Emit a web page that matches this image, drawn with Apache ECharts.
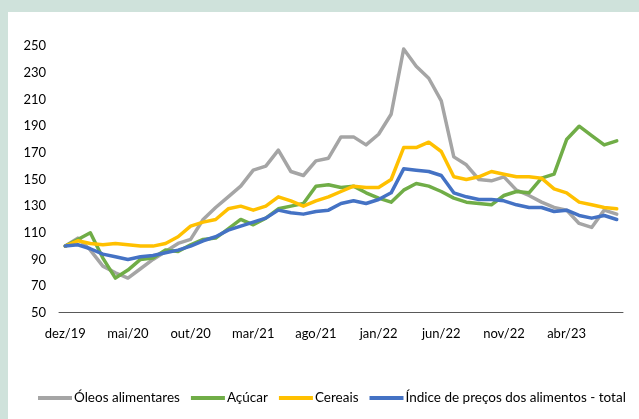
<!DOCTYPE html>
<html>
<head>
<meta charset="utf-8">
<script src="https://cdn.jsdelivr.net/npm/echarts@6/dist/echarts.min.js"></script>
<style>
html,body{margin:0;padding:0;width:639px;height:419px;overflow:hidden;background:#CFE2DB;}
#chart{position:absolute;left:8px;top:12px;width:631px;height:407px;background:#fff;}
</style>
</head>
<body>
<div id="chart"></div>
<script>
const months = ["dez/19","jan/20","fev/20","mar/20","abr/20","mai/20","jun/20","jul/20","ago/20","set/20","out/20","nov/20","dez/20","jan/21","fev/21","mar/21","abr/21","mai/21","jun/21","jul/21","ago/21","set/21","out/21","nov/21","dez/21","jan/22","fev/22","mar/22","abr/22","mai/22","jun/22","jul/22","ago/22","set/22","out/22","nov/22","dez/22","jan/23","fev/23","mar/23","abr/23","mai/23","jun/23","jul/23","ago/23"];
const oleos = [100,106,97,85,80,76,83,90,96,102,105,120,129,137,145,157,160,172,156,153,164,166,182,182,176,184,199,248,235,226,209,167,161,150,149,152,142,138,133,129,127,117,114,127,124];
const acucar = [100,105,110,91,76,82,90,91,97,96,101,105,106,113,120,116,121,128,130,132,145,146,144,145,140,136,133,142,147,145,141,136,133,132,131,138,141,140,151,154,180,190,183,176,179];
const cereais = [100,104,102,101,102,101,100,100,102,107,115,118,120,128,130,127,130,137,134,130,134,137,141,145,144,144,150,174,174,178,171,152,150,152,156,154,152,152,151,143,140,133,131,129,128];
const indice = [100,101,98,94,92,90,92,93,95,97,100,104,107,112,115,118,121,127,125,124,126,127,132,134,132,135,140,158,157,156,153,140,137,135,135,134,131,129,129,126,127,123,121,123,120];

const chart = echarts.init(document.getElementById('chart'), null, {renderer:'canvas'});
const font = 'Lato';
function mk(name, data, color){
  return {name, type:'line', data, symbol:'none', smooth:false,
    lineStyle:{color, width:3.5, cap:'round', join:'round'}, itemStyle:{color}};
}
chart.setOption({
  animation:false,
  textStyle:{fontFamily:font},
  grid:{left:51, right:16, top:34.3, bottom:106.3},
  xAxis:{type:'category', data:months, boundaryGap:true,
    axisLine:{lineStyle:{color:'#595959', width:1}},
    axisTick:{show:false},
    axisLabel:{interval:4, color:'#000', fontSize:13, fontFamily:font, margin:15},
    splitLine:{show:false}},
  yAxis:{type:'value', min:50, max:250, interval:20,
    axisLine:{show:false}, axisTick:{show:false}, splitLine:{show:false},
    axisLabel:{color:'#000', fontSize:13, fontFamily:font, margin:13}},
  legend:{left:25, top:374, itemWidth:34, itemHeight:4, itemGap:11,
    icon:'rect',
    textStyle:{color:'#000', fontSize:13.5, fontFamily:font, padding:[0,0,0,-3]},
    data:['Óleos alimentares','Açúcar','Cereais','Índice de preços dos alimentos - total']},
  series:[
    mk('Óleos alimentares', oleos, '#A5A5A5'),
    mk('Açúcar', acucar, '#70AD47'),
    mk('Cereais', cereais, '#FFC000'),
    mk('Índice de preços dos alimentos - total', indice, '#4472C4')
  ]
});
</script>
</body>
</html>
